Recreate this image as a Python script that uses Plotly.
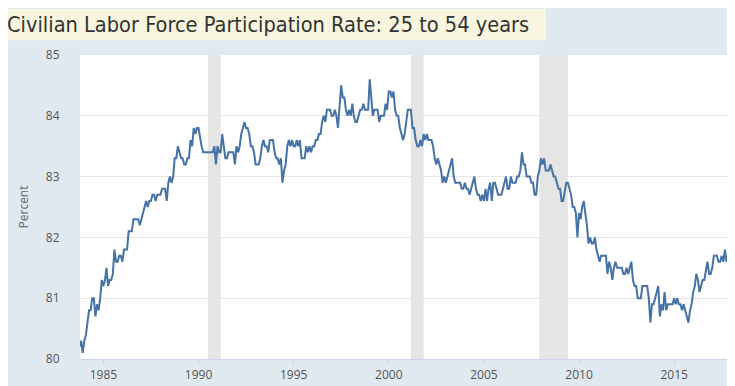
import pandas as pd
import plotly.graph_objects as go

# Civilian Labor Force Participation Rate: 25 to 54 years, monthly, Oct 1983 - Jan 2018
start_month = "1983-10-01"

lfpr_1980s = [
    80.2, 80.3, 80.1,  # 1983 Oct-Dec
    80.3, 80.4, 80.6, 80.8, 80.8, 81.0, 81.0, 80.7, 80.9, 80.8, 81.0, 81.3,  # 1984
    81.2, 81.3, 81.5, 81.2, 81.3, 81.3, 81.4, 81.8, 81.6, 81.6, 81.7, 81.7,  # 1985
    81.6, 81.8, 81.8, 81.8, 82.1, 82.1, 82.1, 82.3, 82.3, 82.3, 82.3, 82.2,  # 1986
    82.3, 82.4, 82.5, 82.6, 82.5, 82.6, 82.6, 82.7, 82.7, 82.6, 82.7, 82.7,  # 1987
    82.7, 82.8, 82.8, 82.8, 82.6, 82.9, 83.0, 82.9, 83.0, 83.3, 83.3, 83.5,  # 1988
    83.4, 83.3, 83.3, 83.2, 83.2, 83.3, 83.3, 83.6, 83.5, 83.8, 83.7, 83.8,  # 1989
]
lfpr_1990s = [
    83.8, 83.6, 83.5, 83.4, 83.4, 83.4, 83.4, 83.4, 83.4, 83.4, 83.5, 83.2,  # 1990
    83.5, 83.4, 83.4, 83.7, 83.5, 83.3, 83.3, 83.4, 83.4, 83.4, 83.4, 83.2,  # 1991
    83.5, 83.4, 83.5, 83.7, 83.8, 83.9, 83.8, 83.8, 83.7, 83.5, 83.5, 83.4,  # 1992
    83.2, 83.2, 83.2, 83.3, 83.5, 83.6, 83.5, 83.5, 83.4, 83.6, 83.6, 83.6,  # 1993
    83.4, 83.3, 83.3, 83.2, 83.3, 82.9, 83.1, 83.2, 83.5, 83.6, 83.5, 83.6,  # 1994
    83.5, 83.5, 83.6, 83.5, 83.6, 83.3, 83.3, 83.3, 83.5, 83.4, 83.5, 83.4,  # 1995
    83.5, 83.5, 83.6, 83.6, 83.7, 83.7, 83.9, 84.0, 83.9, 84.1, 84.1, 84.1,  # 1996
    84.0, 84.0, 84.1, 84.0, 83.8, 84.1, 84.5, 84.3, 84.3, 84.1, 84.0, 84.1,  # 1997
    84.0, 84.2, 84.0, 83.9, 83.9, 84.0, 84.1, 84.1, 84.2, 84.1, 84.1, 84.1,  # 1998
    84.6, 84.2, 84.0, 84.1, 84.1, 84.1, 83.9, 84.0, 84.0, 84.0, 84.2, 84.1,  # 1999
]
lfpr_2000s = [
    84.4, 84.4, 84.3, 84.4, 84.1, 84.0, 84.0, 83.8, 83.7, 83.6, 83.7, 83.9,  # 2000
    84.1, 84.1, 84.1, 83.8, 83.8, 83.6, 83.5, 83.5, 83.6, 83.5, 83.7, 83.6,  # 2001
    83.7, 83.6, 83.6, 83.6, 83.5, 83.3, 83.2, 83.3, 83.2, 83.1, 82.9, 83.0,  # 2002
    82.9, 83.0, 83.1, 83.2, 83.3, 83.0, 82.9, 82.9, 82.9, 82.9, 82.8, 82.8,  # 2003
    82.9, 82.8, 82.8, 82.7, 82.8, 82.9, 83.0, 82.8, 82.7, 82.7, 82.6, 82.7,  # 2004
    82.6, 82.8, 82.6, 82.8, 82.9, 82.6, 82.9, 82.9, 82.8, 82.7, 82.7, 82.7,  # 2005
    82.8, 82.9, 83.0, 82.8, 82.8, 83.0, 82.9, 82.9, 82.9, 83.0, 83.0, 83.1,  # 2006
    83.4, 83.2, 83.2, 83.0, 83.0, 83.0, 82.9, 82.9, 82.7, 82.7, 83.0, 83.1,  # 2007
    83.3, 83.2, 83.3, 83.1, 83.1, 83.1, 83.2, 83.1, 83.0, 83.0, 82.9, 82.8,  # 2008
    82.8, 82.6, 82.6, 82.8, 82.9, 82.9, 82.8, 82.7, 82.5, 82.5, 82.4, 82.0,  # 2009
]
lfpr_2010s = [
    82.4, 82.3, 82.5, 82.6, 82.4, 82.2, 81.9, 82.0, 81.9, 81.9, 82.0, 81.8,  # 2010
    81.7, 81.6, 81.7, 81.7, 81.7, 81.7, 81.4, 81.6, 81.5, 81.3, 81.5, 81.6,  # 2011
    81.5, 81.5, 81.5, 81.5, 81.4, 81.4, 81.5, 81.4, 81.5, 81.6, 81.3, 81.2,  # 2012
    81.2, 81.0, 81.0, 81.0, 81.2, 81.2, 81.2, 81.2, 81.0, 80.6, 80.9, 80.9,  # 2013
    81.0, 81.1, 81.2, 80.7, 80.9, 80.8, 81.1, 80.8, 80.9, 80.9, 80.9, 80.9,  # 2014
    81.0, 80.9, 81.0, 80.9, 80.9, 80.8, 80.9, 80.8, 80.7, 80.6, 80.8, 80.9,  # 2015
    81.1, 81.2, 81.4, 81.3, 81.1, 81.2, 81.3, 81.3, 81.5, 81.6, 81.4, 81.4,  # 2016
    81.5, 81.7, 81.7, 81.7, 81.6, 81.6, 81.7, 81.6, 81.8, 81.6, 81.7, 81.9,  # 2017
    81.9,  # 2018 Jan
]

recession_starts = ["1990-07-01", "2001-03-01", "2007-12-01"]
recession_ends = ["1991-03-01", "2001-11-01", "2009-06-01"]

y_ticks = [80, 81, 82, 83, 84, 85]
x_tick_years = [1985, 1990, 1995, 2000, 2005, 2010, 2015]

title_text = "Civilian Labor Force Participation Rate: 25 to 54 years"
y_title = "Percent"

values = lfpr_1980s + lfpr_1990s + lfpr_2000s + lfpr_2010s
dates = pd.date_range(start_month, periods=len(values), freq="MS")

W, H = 735, 386
L, R, T, B = 72, 11, 47, 28
pw, ph = W - L - R, H - T - B
y_lo, y_hi = y_ticks[0], y_ticks[-1]


def px_x(p):
    return (p - L) / pw


def px_y(p):
    return (H - B - p) / ph


fig = go.Figure()

# recession shading, drawn as filled traces so they sit above gridlines and below the line
for s, e in zip(recession_starts, recession_ends):
    fig.add_trace(go.Scatter(
        x=[s, s, e, e], y=[y_lo, y_hi, y_hi, y_lo],
        mode="lines", fill="toself", fillcolor="#e5e5e5",
        line=dict(width=0, color="#e5e5e5"),
        hoverinfo="skip", showlegend=False,
    ))

fig.add_trace(go.Scatter(
    x=dates, y=values, mode="lines",
    line=dict(color="#4572a7", width=2),
    hoverinfo="skip", showlegend=False,
))

font_family = "Open Sans, Noto Sans, Arial, sans-serif"

fig.update_layout(
    width=W, height=H,
    margin=dict(l=L, r=R, t=T, b=B),
    paper_bgcolor="#e1e9f0",
    plot_bgcolor="#ffffff",
    font=dict(family=font_family, size=12, color="#555555"),
    xaxis=dict(
        type="date",
        range=["1983-10-10", "2018-01-15"],
        tickvals=[f"{yr}-01-01" for yr in x_tick_years],
        ticktext=[str(yr) for yr in x_tick_years],
        showgrid=False,
        showline=True, linecolor="#ccd6eb", linewidth=1,
        ticks="outside", ticklen=5, tickcolor="#ccd6eb",
        tickfont=dict(size=12, color="#555555"),
        zeroline=False,
        fixedrange=True,
    ),
    yaxis=dict(
        range=[y_lo, y_hi],
        tickvals=y_ticks,
        showgrid=True, gridcolor="#e6e6e6", gridwidth=1,
        showline=False, zeroline=False,
        ticks="outside", ticklen=17, tickcolor="rgba(0,0,0,0)",
        tickfont=dict(size=12, color="#555555"),
        title=dict(text=y_title, font=dict(size=12, color="#666666"), standoff=14),
        fixedrange=True,
    ),
    shapes=[
        dict(type="rect", xref="paper", yref="paper",
             x0=px_x(0), x1=px_x(538), y0=px_y(32), y1=px_y(0),
             fillcolor="#f8f6de", line_width=0, layer="below"),
    ],
    annotations=[
        dict(text=title_text, xref="paper", yref="paper",
             x=px_x(-3), y=px_y(16), xanchor="left", yanchor="middle",
             showarrow=False,
             font=dict(family="Liberation Sans Narrow, DejaVu Sans Condensed, Roboto, sans-serif",
                       size=21.6, color="#333333")),
    ],
)

# expand icon (four small corner marks) at top right
cx0, cx1, cy0, cy1 = 723, 731, 10, 18
seg = 2.5
for (xc, yc, dx, dy) in [(cx0, cy0, 1, 1), (cx1, cy0, -1, 1), (cx0, cy1, 1, -1), (cx1, cy1, -1, -1)]:
    fig.add_shape(type="line", xref="paper", yref="paper",
                  x0=px_x(xc), x1=px_x(xc + dx * seg), y0=px_y(yc), y1=px_y(yc),
                  line=dict(color="#777777", width=1))
    fig.add_shape(type="line", xref="paper", yref="paper",
                  x0=px_x(xc), x1=px_x(xc), y0=px_y(yc), y1=px_y(yc + dy * seg),
                  line=dict(color="#777777", width=1))

fig.write_html("out.html")
